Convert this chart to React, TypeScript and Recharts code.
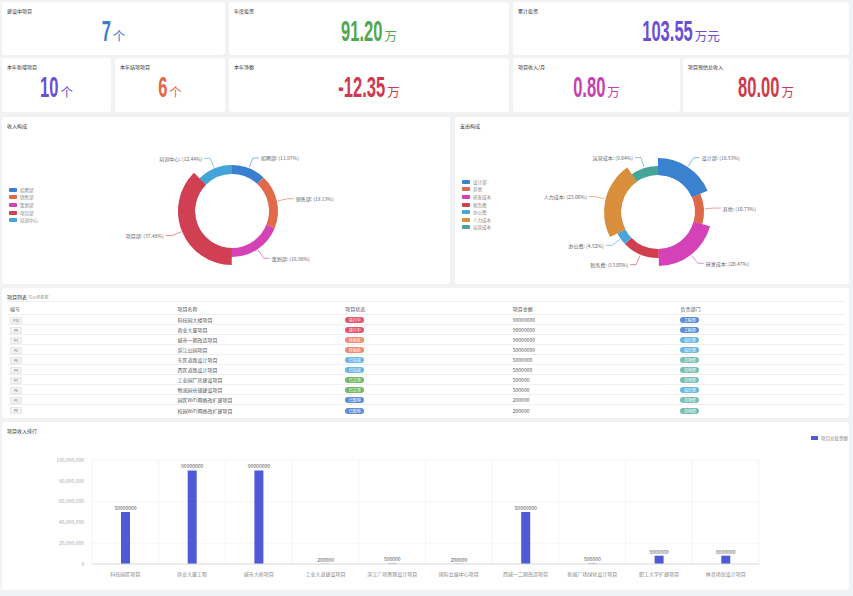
import React from "react";
import {
  PieChart,
  Pie,
  Cell,
  BarChart,
  Bar,
  XAxis,
  YAxis,
  CartesianGrid,
  LabelList,
} from "recharts";

const CN = '"Noto Sans CJK SC", "Noto Sans", sans-serif';
const NUM = '"Liberation Sans", Arial, sans-serif';

// stat cards
const statTitles = ["建设中项目", "年度投资", "累计投资", "本年新增项目", "本年结项项目", "本年净额", "项目收入/月", "项目预估总收入"];
const statValues = ["7", "91.20", "103.55", "10", "6", "-12.35", "0.80", "80.00"];
const statUnits = ["个", "万", "万元", "个", "个", "万", "万", "万"];
const statColors = ["#3b7dd0", "#4fa851", "#6a4fd6", "#6a4fd6", "#e3674a", "#d0384f", "#c63fae", "#cf3a4a"];

// income pie
const incomeNames = ["招聘部", "销售部", "策划部", "项目部", "培训中心"];
const incomeValues = [15.2, 24.3, 24.1, 47.6, 15.8];
const incomeColors = ["#3a7fcf", "#e2694a", "#d442b6", "#d13f53", "#45a4d7"];
const incomeBig = [false, false, false, true, false];

// expense pie
const expenseNames = ["设计部", "其他", "研发成本", "税务费", "办公费", "人力成本", "运营成本"];
const expenseValues = [18.53, 10.73, 20.47, 13.05, 4.52, 23.06, 9.64];
const expenseColors = ["#3a82d0", "#e0684a", "#d542b8", "#d13f4f", "#4aa6d8", "#d88e3a", "#45a59a"];
const expenseBig = [true, false, true, false, false, true, false];

// project table
const rowCodes = ["P10", "P9", "P3", "P2", "P5", "P4", "P7", "P6", "P1", "P8"];
const rowNames = ["科技园大楼项目", "商业大厦项目", "城市一期改造项目", "滨江公园项目", "东区道路设计项目", "西区道路设计项目", "工业园厂房建设项目", "物流园仓储建设项目", "园区WiFi网络改扩建项目", "校园WiFi网络改扩建项目"];
const rowStatus = ["进行中", "进行中", "待验收", "待验收", "已完成", "已完成", "已立项", "已立项", "已暂停", "已暂停"];
const rowAmounts = ["90000000", "90000000", "90000000", "50000000", "5000000", "5000000", "500000", "500000", "200000", "200000"];
const rowDepts = ["工程部", "工程部", "设计部", "设计部", "市场部", "市场部", "市场部", "设计部", "市场部", "市场部"];
const statusColors: Record<string, string> = { 进行中: "#e0566a", 待验收: "#ef8b72", 已完成: "#6bb7e4", 已立项: "#72ba69", 已暂停: "#5b8fd6" };
const deptColors: Record<string, string> = { 工程部: "#5b8ed8", 设计部: "#6bb7e4", 市场部: "#79bfb3" };

// bar chart
const projectNames = ["科技园区项目", "商业大厦工程", "城市大桥项目", "工业大道建设项目", "滨江广场景观设计项目", "国际会展中心项目", "西城一二期改造项目", "新城广场绿化设计项目", "职工大学扩建项目", "体育场馆设计项目"];
const projectInvest = [50000000, 90000000, 90000000, 200000, 500000, 200000, 50000000, 500000, 8000000, 8000000];
const investTicks = [0, 20000000, 40000000, 60000000, 80000000, 100000000];

const statBoxes = [
  { x: 2, y: 2, w: 223, h: 53 },
  { x: 229, y: 2, w: 280, h: 53 },
  { x: 513, y: 2, w: 336, h: 53 },
  { x: 2, y: 58, w: 109, h: 54 },
  { x: 115, y: 58, w: 110, h: 54 },
  { x: 229, y: 58, w: 280, h: 54 },
  { x: 513, y: 58, w: 167, h: 54 },
  { x: 683, y: 58, w: 166, h: 54 },
];

const card: React.CSSProperties = { position: "absolute", background: "#fff", borderRadius: 3 };
const titleStyle: React.CSSProperties = { position: "absolute", left: 5, top: 6, fontSize: 5, lineHeight: "6px", color: "#333", fontFamily: CN };

// glyph advance of Liberation Sans Bold in em
const glyphEm = (c: string) => (c === "." ? 0.278 : c === "-" ? 0.333 : 0.556);
const NUM_SIZE = 29;
const SQUEEZE = 0.57;

const StatValue = ({ value, unit, color, w }: { value: string; unit: string; color: string; w: number }) => {
  const nw = [...value].reduce((s, c) => s + glyphEm(c), 0) * NUM_SIZE * SQUEEZE;
  const uw = unit.length * 12.5;
  const gap = 2;
  const x0 = w / 2 - (nw + gap + uw) / 2;
  return (
    <svg width={w} height={50} style={{ position: "absolute", left: 0, top: 0 }}>
      <text transform={`translate(${x0},38.5) scale(${SQUEEZE},1)`} x={0} y={0} fontFamily={NUM} fontWeight={700} fontSize={NUM_SIZE} fill={color}>
        {value}
      </text>
      <text x={x0 + nw + gap} y={38.5} fontFamily={CN} fontSize={12.5} fill={color}>
        {unit}
      </text>
    </svg>
  );
};

const RAD = Math.PI / 180;
const pieLabel = (props: any) => {
  const { cx, cy, midAngle, percent, payload } = props;
  const r0 = payload.big ? 54 : 46;
  const cos = Math.cos(-midAngle * RAD);
  const sin = Math.sin(-midAngle * RAD);
  const x1 = cx + (r0 + 1) * cos;
  const y1 = cy + (r0 + 1) * sin;
  const x2 = cx + (r0 + 11) * cos;
  const y2 = cy + (r0 + 11) * sin;
  const dir = cos >= 0 ? 1 : -1;
  const x3 = x2 + dir * 6;
  return (
    <g>
      <polyline points={`${x1},${y1} ${x2},${y2} ${x3},${y2}`} fill="none" stroke={payload.color} strokeWidth={0.6} />
      <text x={x3 + dir * 2} y={y2} textAnchor={dir > 0 ? "start" : "end"} dominantBaseline="central" fontSize={5} fill="#666" fontFamily={CN}>
        {`${payload.name}: (${(percent * 100).toFixed(2)}%)`}
      </text>
    </g>
  );
};

const Donut = ({ names, values, colors, big, w, cx, cy, legendTop }: any) => {
  const data = names.map((n: string, i: number) => ({ name: n, value: values[i], color: colors[i], big: big[i] }));
  return (
    <>
      <PieChart width={w} height={167} style={{ position: "absolute", left: 0, top: 0 }}>
        <Pie data={data} dataKey="value" nameKey="name" cx={cx} cy={cy} innerRadius={37} outerRadius={54} startAngle={90} endAngle={-270} stroke="none" isAnimationActive={false}>
          {data.map((d: any, i: number) => (
            <Cell key={i} fill={d.color} fillOpacity={d.big ? 1 : 0} />
          ))}
        </Pie>
        <Pie data={data} dataKey="value" nameKey="name" cx={cx} cy={cy} innerRadius={37} outerRadius={46} startAngle={90} endAngle={-270} stroke="none" label={pieLabel} labelLine={false} isAnimationActive={false}>
          {data.map((d: any, i: number) => (
            <Cell key={i} fill={d.color} />
          ))}
        </Pie>
      </PieChart>
      <div style={{ position: "absolute", left: 7, top: legendTop }}>
        {data.map((d: any, i: number) => (
          <div key={i} style={{ display: "flex", alignItems: "center", height: 7.6 }}>
            <span style={{ width: 8, height: 4, borderRadius: 1, background: d.color, display: "inline-block" }} />
            <span style={{ marginLeft: 3, fontSize: 4.5, color: "#888", fontFamily: CN }}>{d.name}</span>
          </div>
        ))}
      </div>
    </>
  );
};

const Tag = ({ text, color }: { text: string; color: string }) => (
  <span style={{ display: "inline-block", width: 19, height: 6, lineHeight: "6px", borderRadius: 3, background: color, color: "#fff", fontSize: 4, textAlign: "center" }}>{text}</span>
);

const colStyle: React.CSSProperties = { paddingLeft: 3 };

const App = () => {
  const barData = projectNames.map((n, i) => ({ name: n, value: projectInvest[i] }));
  return (
    <div style={{ position: "relative", width: 853, height: 596, background: "#f1f2f4", fontFamily: CN, overflow: "hidden" }}>
      <style>{`body{margin:0}`}</style>

      {statBoxes.map((b, i) => (
        <div key={i} style={{ ...card, left: b.x, top: b.y, width: b.w, height: b.h }}>
          <div style={titleStyle}>{statTitles[i]}</div>
          <StatValue value={statValues[i]} unit={statUnits[i]} color={statColors[i]} w={b.w} />
        </div>
      ))}

      <div style={{ ...card, left: 2, top: 117, width: 448, height: 167 }}>
        <div style={titleStyle}>收入构成</div>
        <Donut names={incomeNames} values={incomeValues} colors={incomeColors} big={incomeBig} w={448} cx={225} cy={89} legendTop={69} />
      </div>

      <div style={{ ...card, left: 455, top: 117, width: 394, height: 167 }}>
        <div style={titleStyle}>支出构成</div>
        <Donut names={expenseNames} values={expenseValues} colors={expenseColors} big={expenseBig} w={394} cx={198} cy={90} legendTop={61} />
      </div>

      <div style={{ ...card, left: 2, top: 288, width: 847, height: 130 }}>
        <div style={{ ...titleStyle, top: 6 }}>
          项目列表 <span style={{ color: "#999", fontSize: 4 }}>共10条数据</span>
        </div>
        <div style={{ position: "absolute", left: 5, top: 13, width: 838, fontSize: 5, color: "#555" }}>
          <div style={{ display: "grid", gridTemplateColumns: "repeat(5, 167.6px)", height: 12, alignItems: "center", borderTop: "1px solid #eee", borderBottom: "1px solid #eee" }}>
            {["编号", "项目名称", "项目状态", "项目金额", "负责部门"].map((h) => (
              <div key={h} style={colStyle}>{h}</div>
            ))}
          </div>
          {rowCodes.map((c, i) => (
            <div key={c} style={{ display: "grid", gridTemplateColumns: "repeat(5, 167.6px)", height: 10, alignItems: "center", borderBottom: i < 9 ? "1px solid #f0f0f0" : "none", boxSizing: "border-box" }}>
              <div style={colStyle}>
                <span style={{ display: "inline-block", width: 10, height: 5, lineHeight: "5px", background: "#f3f3f3", border: "0.5px solid #e6e6e6", borderRadius: 1, fontSize: 3.5, color: "#777", textAlign: "center" }}>{c}</span>
              </div>
              <div style={colStyle}>{rowNames[i]}</div>
              <div style={colStyle}><Tag text={rowStatus[i]} color={statusColors[rowStatus[i]]} /></div>
              <div style={colStyle}>{rowAmounts[i]}</div>
              <div style={colStyle}><Tag text={rowDepts[i]} color={deptColors[rowDepts[i]]} /></div>
            </div>
          ))}
        </div>
      </div>

      <div style={{ ...card, left: 2, top: 422, width: 847, height: 168 }}>
        <div style={titleStyle}>项目收入排行</div>
        <div style={{ position: "absolute", left: 809, top: 13, display: "flex", alignItems: "center" }}>
          <span style={{ width: 7, height: 4, background: "#4f5ad6", display: "inline-block" }} />
          <span style={{ marginLeft: 3, fontSize: 4.5, color: "#888" }}>项目总投资额</span>
        </div>
        <BarChart width={847} height={168} data={barData} margin={{ top: 38, right: 90, left: 0, bottom: 14 }} style={{ position: "absolute", left: 0, top: 0 }}>
          <CartesianGrid
            stroke="#eeeeee"
            strokeWidth={0.6}
            verticalCoordinatesGenerator={({ offset }: any) => Array.from({ length: 11 }, (_, i) => offset.left + (offset.width * i) / 10)}
          />
          <XAxis dataKey="name" interval={0} height={12} axisLine={{ stroke: "#dddddd" }} tickLine={false} tick={{ fontSize: 5, fill: "#888", fontFamily: CN }} />
          <YAxis
            width={90}
            domain={[0, 100000000]}
            ticks={investTicks}
            tickFormatter={(v: number) => v.toLocaleString("en-US")}
            axisLine={false}
            tickLine={false}
            tick={{ fontSize: 5, fill: "#aaa" }}
          />
          <Bar dataKey="value" fill="#4f5ad6" barSize={9} isAnimationActive={false}>
            <LabelList dataKey="value" position="top" offset={2} fontSize={5} fill="#555" />
          </Bar>
        </BarChart>
      </div>
    </div>
  );
};

export default App;
